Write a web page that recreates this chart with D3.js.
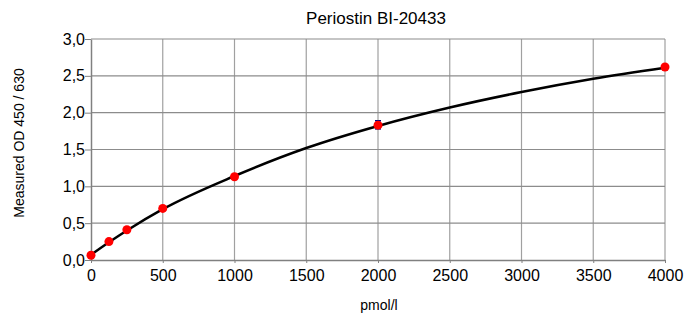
<!DOCTYPE html>
<html>
<head>
<meta charset="utf-8">
<script src="https://cdn.jsdelivr.net/npm/d3@7"></script>
<style>
  body { margin: 0; background: #fff; }
  text { font-family: "Liberation Sans", Arial, sans-serif; }
</style>
</head>
<body>
<svg id="chart"></svg>
<script>
// Standard points (concentration, measured OD)
const concentrations = [0, 125, 250, 500, 1000, 2000, 4000];
const odValues = [0.064, 0.25, 0.41, 0.70, 1.13, 1.83, 2.62];
const errLow = [0.05, 0.24, 0.40, 0.69, 1.12, 1.78, 2.60];
const errHigh = [0.08, 0.26, 0.42, 0.71, 1.14, 1.89, 2.64];

// Fitted curve
const curveX = [0, 125, 250, 500, 1000, 1500, 2000, 2500, 3000, 3500, 4000];
const curveY = [0.07, 0.24, 0.40, 0.69, 1.14, 1.52, 1.82, 2.07, 2.28, 2.46, 2.61];

const xTicks = [0, 500, 1000, 1500, 2000, 2500, 3000, 3500, 4000];
const yTicks = [0, 0.5, 1.0, 1.5, 2.0, 2.5, 3.0];

const width = 684, height = 315;
const margin = { top: 39, right: 19, bottom: 55, left: 91 };

const svg = d3.select("#chart")
    .attr("width", width)
    .attr("height", height);

const x = d3.scaleLinear().domain([0, 4000]).range([margin.left, width - margin.right]);
const y = d3.scaleLinear().domain([0, 3]).range([height - margin.bottom, margin.top]);

// Grid
svg.append("g")
    .selectAll("line")
    .data(xTicks.slice(1))
    .enter().append("line")
    .attr("x1", d => x(d)).attr("x2", d => x(d))
    .attr("y1", y(0)).attr("y2", y(3))
    .attr("stroke", "#a0a0a0").attr("stroke-width", 1.2);

svg.append("g")
    .selectAll("line")
    .data(yTicks.slice(1))
    .enter().append("line")
    .attr("x1", x(0)).attr("x2", x(4000))
    .attr("y1", d => y(d)).attr("y2", d => y(d))
    .attr("stroke", "#8c8c8c").attr("stroke-width", 1.2);

// Axes
const fmt = d => d3.format(".1f")(d).replace(".", ",");

const xAxis = svg.append("g")
    .attr("transform", `translate(0, ${y(0)})`)
    .call(d3.axisBottom(x).tickValues(xTicks).tickFormat(d3.format("d"))
        .tickSize(3).tickPadding(7).tickSizeOuter(0));

const yAxis = svg.append("g")
    .attr("transform", `translate(${x(0)}, 0)`)
    .call(d3.axisLeft(y).tickValues(yTicks).tickFormat(fmt)
        .tickSize(6).tickPadding(0).tickSizeOuter(0));

[xAxis, yAxis].forEach(a => {
    a.select(".domain").attr("stroke", "#808080").attr("stroke-width", 1.5);
    a.selectAll(".tick line").attr("stroke", "#808080");
    a.selectAll(".tick text").attr("fill", "#000").style("font-size", "16px");
});

// Fitted curve
const line = d3.line()
    .x(d => x(d[0]))
    .y(d => y(d[1]))
    .curve(d3.curveMonotoneX);

svg.append("path")
    .datum(curveX.map((c, i) => [c, curveY[i]]))
    .attr("d", line)
    .attr("fill", "none")
    .attr("stroke", "#000")
    .attr("stroke-width", 2.5);

// Error bars
const errs = svg.append("g");
concentrations.forEach((c, i) => {
    errs.append("line")
        .attr("x1", x(c)).attr("x2", x(c))
        .attr("y1", y(errLow[i])).attr("y2", y(errHigh[i]))
        .attr("stroke", "#000080").attr("stroke-width", 1.5);
    [errLow[i], errHigh[i]].forEach(v => {
        errs.append("line")
            .attr("x1", x(c) - 3).attr("x2", x(c) + 3)
            .attr("y1", y(v)).attr("y2", y(v))
            .attr("stroke", "#000080").attr("stroke-width", 1.5);
    });
});

// Points
svg.append("g")
    .selectAll("circle")
    .data(concentrations.map((c, i) => [c, odValues[i]]))
    .enter().append("circle")
    .attr("cx", d => x(d[0]))
    .attr("cy", d => y(d[1]))
    .attr("r", 4.5)
    .attr("fill", "#ff0000");

// Title and labels
svg.append("text")
    .attr("x", 376)
    .attr("y", 24)
    .attr("text-anchor", "middle")
    .style("font-size", "17px")
    .text("Periostin BI-20433");

svg.append("text")
    .attr("x", 379)
    .attr("y", 310)
    .attr("text-anchor", "middle")
    .style("font-size", "14px")
    .text("pmol/l");

svg.append("text")
    .attr("transform", "translate(24, 143) rotate(-90)")
    .attr("text-anchor", "middle")
    .style("font-size", "14px")
    .text("Measured OD 450 / 630");
</script>
</body>
</html>
